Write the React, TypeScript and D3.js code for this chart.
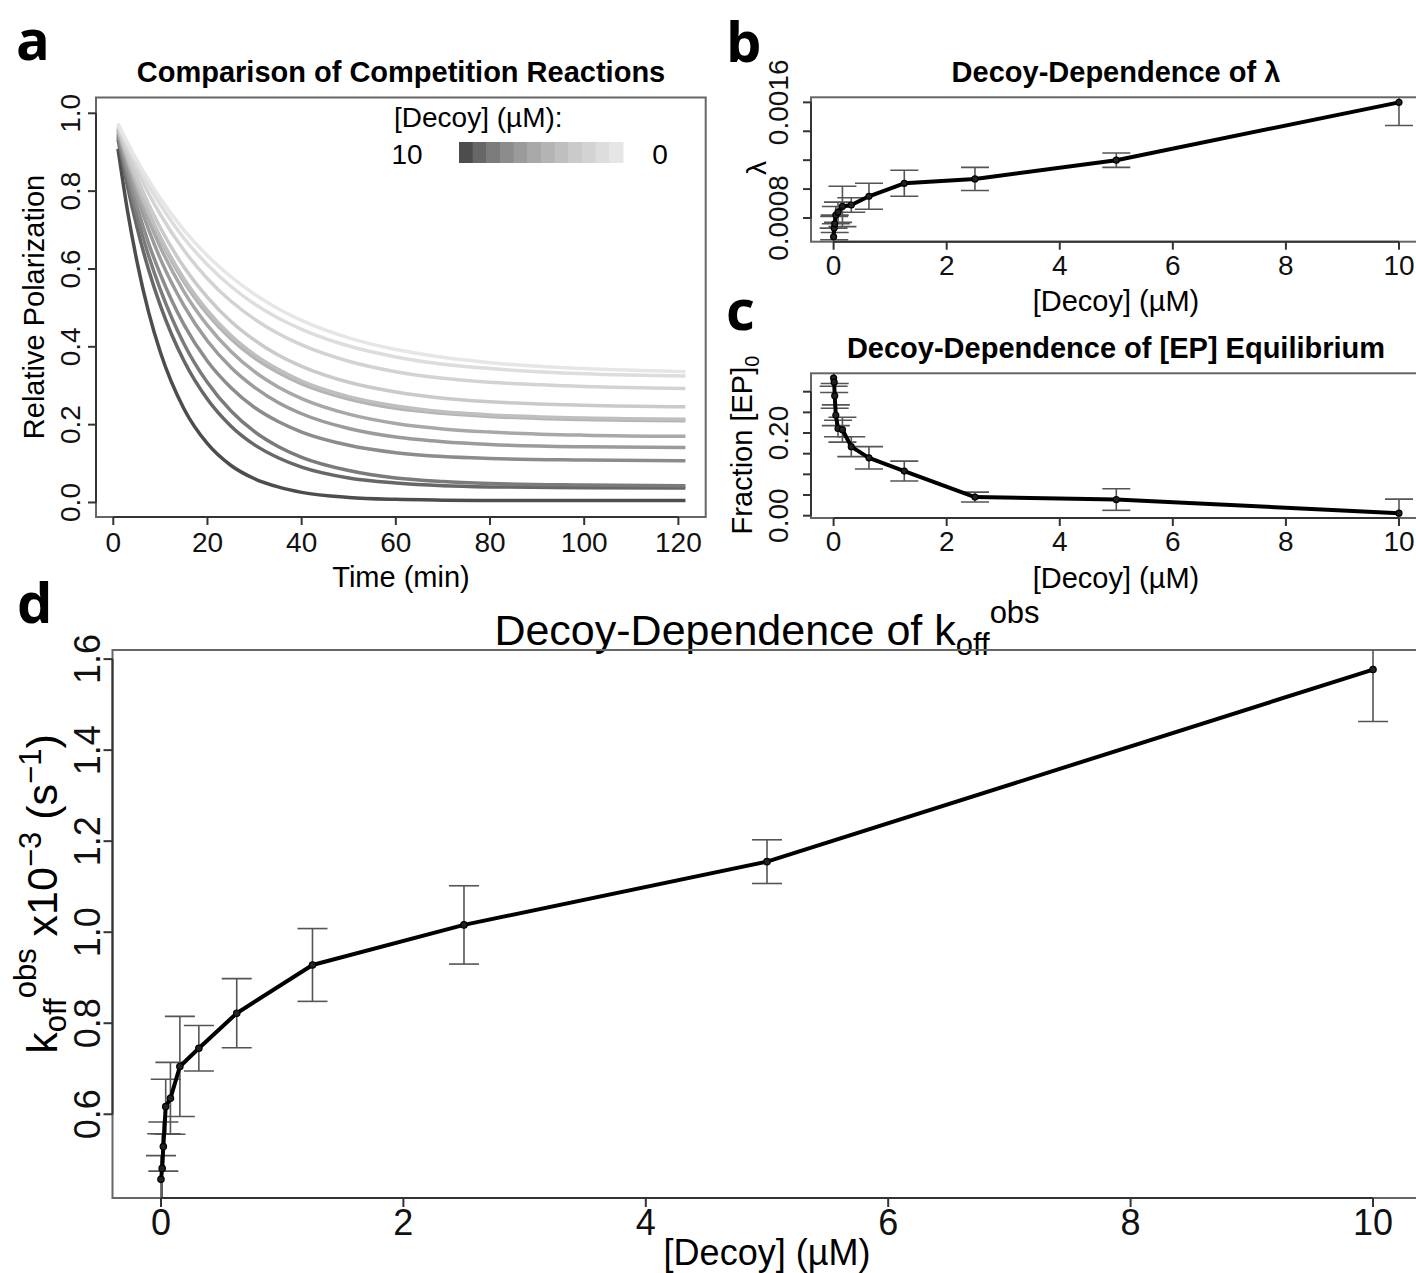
import React from "react";
import * as d3 from "d3";

const FONT = "'Liberation Sans', Arial, Helvetica, sans-serif";
const LABEL_FONT = "'Open Sans', 'DejaVu Sans', sans-serif";

// ---------- data ----------
// decoy concentrations (µM), ascending
const CONC = [0, 0.0098, 0.0195, 0.039, 0.078, 0.156, 0.3125, 0.625, 1.25, 2.5, 5, 10];
// panel b: lambda
const LAMBDA = [0.00067, 0.00073, 0.00076, 0.00082, 0.00084, 0.00088, 0.00089, 0.00095, 0.00104, 0.00107, 0.0012, 0.0016];
const LAMBDA_ERR = [0.00006, 0.00008, 0.00006, 0.00006, 0.00007, 0.00014, 0.00005, 0.00009, 0.00009, 0.00008, 0.00005, 0.00016];
// panel c: fraction [EP]0 at equilibrium
const EP_FRACTION = [0.333, 0.323, 0.29, 0.243, 0.211, 0.208, 0.167, 0.14, 0.108, 0.045, 0.039, 0.006];
const EP_ERR = [0.02, 0.025, 0.03, 0.025, 0.02, 0.03, 0.024, 0.027, 0.024, 0.012, 0.026, 0.034];
// panel d: koff obs (x10^-3 s^-1)
const KOFF = [0.457, 0.481, 0.529, 0.617, 0.635, 0.705, 0.745, 0.822, 0.928, 1.016, 1.155, 1.577];
const KOFF_ERR = [0.052, 0.076, 0.054, 0.06, 0.079, 0.11, 0.05, 0.076, 0.08, 0.086, 0.048, 0.114];

// panel a: relative polarization curves, sampled at these times (min)
const TIME_MIN = [1, 3, 5, 7.5, 10, 15, 20, 25, 30, 35, 40, 50, 60, 70, 80, 100, 121.5];
const CURVE_10 = [0.909, 0.751, 0.621, 0.489, 0.386, 0.241, 0.151, 0.095, 0.061, 0.04, 0.026, 0.013, 0.008, 0.006, 0.005, 0.005, 0.005];
const CURVE_5 = [0.933, 0.813, 0.709, 0.598, 0.506, 0.364, 0.265, 0.196, 0.148, 0.115, 0.091, 0.063, 0.05, 0.043, 0.04, 0.038, 0.037];
const CURVE_2_5 = [0.94, 0.832, 0.737, 0.634, 0.547, 0.408, 0.308, 0.235, 0.182, 0.144, 0.116, 0.082, 0.063, 0.054, 0.049, 0.045, 0.043];
const CURVE_1_25 = [0.946, 0.848, 0.761, 0.666, 0.586, 0.457, 0.363, 0.295, 0.244, 0.208, 0.181, 0.147, 0.128, 0.118, 0.113, 0.109, 0.107];
const CURVE_0_625 = [0.952, 0.865, 0.787, 0.701, 0.626, 0.506, 0.415, 0.347, 0.296, 0.257, 0.228, 0.19, 0.168, 0.156, 0.149, 0.143, 0.141];
const CURVE_0_3125 = [0.957, 0.877, 0.805, 0.726, 0.656, 0.542, 0.455, 0.388, 0.336, 0.297, 0.267, 0.227, 0.203, 0.189, 0.181, 0.173, 0.17];
const CURVE_0_156 = [0.959, 0.884, 0.817, 0.741, 0.676, 0.567, 0.484, 0.42, 0.371, 0.334, 0.305, 0.266, 0.242, 0.229, 0.221, 0.213, 0.21];
const CURVE_0_078 = [0.96, 0.887, 0.821, 0.747, 0.682, 0.575, 0.493, 0.429, 0.38, 0.342, 0.312, 0.272, 0.248, 0.233, 0.225, 0.217, 0.214];
const CURVE_0_039 = [0.964, 0.896, 0.835, 0.767, 0.706, 0.605, 0.527, 0.465, 0.417, 0.379, 0.35, 0.309, 0.284, 0.268, 0.259, 0.25, 0.246];
const CURVE_0_0195 = [0.968, 0.909, 0.855, 0.794, 0.74, 0.648, 0.575, 0.517, 0.471, 0.434, 0.405, 0.363, 0.336, 0.319, 0.309, 0.298, 0.293];
const CURVE_0_0098 = [0.972, 0.918, 0.87, 0.814, 0.765, 0.679, 0.611, 0.555, 0.51, 0.474, 0.445, 0.402, 0.374, 0.355, 0.344, 0.331, 0.325];
const CURVE_0 = [0.974, 0.925, 0.88, 0.828, 0.781, 0.7, 0.634, 0.58, 0.535, 0.498, 0.468, 0.423, 0.393, 0.373, 0.359, 0.344, 0.336];
const CURVES = [CURVE_10, CURVE_5, CURVE_2_5, CURVE_1_25, CURVE_0_625, CURVE_0_3125, CURVE_0_156, CURVE_0_078, CURVE_0_039, CURVE_0_0195, CURVE_0_0098, CURVE_0];
const CURVE_GRAYS = ["#4d4d4d", "#676767", "#7b7b7b", "#8c8c8c", "#9b9b9b", "#a8a8a8", "#b4b4b4", "#bfbfbf", "#cacaca", "#d3d3d3", "#dddddd", "#e6e6e6"];

// ticks
const A_XTICKS = [0, 20, 40, 60, 80, 100, 120];
const A_YTICKS = [0, 0.2, 0.4, 0.6, 0.8, 1.0];
const DECOY_XTICKS = [0, 2, 4, 6, 8, 10];
const B_YTICKS = [0.0008, 0.001, 0.0012, 0.0014, 0.0016];
const B_YLABELS = ["0.0008", "", "", "", "0.0016"];
const C_YTICKS = [0, 0.05, 0.1, 0.15, 0.2, 0.25, 0.3];
const C_YLABELS = ["0.00", "", "", "", "0.20", "", ""];
const D_YTICKS = [0.6, 0.8, 1.0, 1.2, 1.4, 1.6];

const AXIS_COL = "#333";
const BOX_COL = "#666";
const ERR_COL = "#555";

type Lin = d3.ScaleLinear<number, number>;

function Frame({ x, y, id }: { x: Lin; y: Lin; id: string }) {
  const [x0, x1] = x.range();
  const [y1, y0] = y.range();
  return (
    <g>
      <defs>
        <clipPath id={id}>
          <rect x={x0} y={y0} width={x1 - x0} height={y1 - y0} />
        </clipPath>
      </defs>
      <rect x={x0} y={y0} width={x1 - x0} height={y1 - y0} fill="none" stroke={BOX_COL} strokeWidth={2} />
    </g>
  );
}

function BottomAxis({ x, y, ticks, fs, lab, tl = 8, labY }: { x: Lin; y: Lin; ticks: number[]; fs: number; lab: (v: number) => string; tl?: number; labY: number }) {
  const yb = y.range()[0];
  return (
    <g>
      <line x1={x(ticks[0])} x2={x(ticks[ticks.length - 1])} y1={yb} y2={yb} stroke={AXIS_COL} strokeWidth={2} />
      {ticks.map((t, i) => (
        <g key={i}>
          <line x1={x(t)} x2={x(t)} y1={yb} y2={yb + tl} stroke={AXIS_COL} strokeWidth={2} />
          <text x={x(t)} y={labY} fontSize={fs} textAnchor="middle" fontFamily={FONT} fill="#111">{lab(t)}</text>
        </g>
      ))}
    </g>
  );
}

function LeftAxis({ x, y, ticks, fs, labels, tl = 8, labX }: { x: Lin; y: Lin; ticks: number[]; fs: number; labels: string[]; tl?: number; labX: number }) {
  const xl = x.range()[0];
  return (
    <g>
      <line x1={xl} x2={xl} y1={y(ticks[0])} y2={y(ticks[ticks.length - 1])} stroke={AXIS_COL} strokeWidth={2} />
      {ticks.map((t, i) => (
        <g key={i}>
          <line x1={xl - tl} x2={xl} y1={y(t)} y2={y(t)} stroke={AXIS_COL} strokeWidth={2} />
          {labels[i] ? (
            <text transform={`translate(${labX},${y(t)}) rotate(-90)`} fontSize={fs} textAnchor="middle" fontFamily={FONT} fill="#111">{labels[i]}</text>
          ) : null}
        </g>
      ))}
    </g>
  );
}

function ErrorBars({ x, y, xs, vs, es, hw, clip, sw = 1.6 }: { x: Lin; y: Lin; xs: number[]; vs: number[]; es: number[]; hw: number; clip: string; sw?: number }) {
  return (
    <g clipPath={`url(#${clip})`} stroke={ERR_COL} strokeWidth={sw} fill="none">
      {xs.map((xv, i) => {
        const px = x(xv);
        const lo = y(vs[i] - es[i]);
        const hi = y(vs[i] + es[i]);
        return (
          <g key={i}>
            <line x1={px} x2={px} y1={lo} y2={hi} />
            <line x1={px - hw} x2={px + hw} y1={lo} y2={lo} />
            <line x1={px - hw} x2={px + hw} y1={hi} y2={hi} />
          </g>
        );
      })}
    </g>
  );
}

function Series({ x, y, xs, vs, clip, lw, r }: { x: Lin; y: Lin; xs: number[]; vs: number[]; clip: string; lw: number; r: number }) {
  const line = d3.line<number>().x((_, i) => x(xs[i])).y((v) => y(v));
  return (
    <g clipPath={`url(#${clip})`}>
      <path d={line(vs) || ""} fill="none" stroke="#000" strokeWidth={lw} strokeLinejoin="round" />
      {xs.map((xv, i) => (
        <circle key={i} cx={x(xv)} cy={y(vs[i])} r={r} fill="#222" stroke="#000" strokeWidth={1.2} />
      ))}
    </g>
  );
}

export default function App() {
  // panel a
  const ax = d3.scaleLinear().domain([-3.67, 125.8]).range([96, 705.7]);
  const ay = d3.scaleLinear().domain([-0.0373, 1.0406]).range([517, 97.5]);
  // panel b
  const bx = d3.scaleLinear().domain([-0.4, 10.4]).range([811, 1421.6]);
  const by = d3.scaleLinear().domain([0.000636, 0.001635]).range([241.7, 97.3]);
  // panel c
  const cx = d3.scaleLinear().domain([-0.4, 10.4]).range([811, 1421.6]);
  const cy = d3.scaleLinear().domain([-0.0056, 0.3445]).range([518, 373.3]);
  // panel d
  const dx = d3.scaleLinear().domain([-0.4, 10.4]).range([112.5, 1421.5]);
  const dy = d3.scaleLinear().domain([0.416, 1.62]).range([1198, 650]);

  const curveLine = d3
    .line<number>()
    .x((_, i) => ax(TIME_MIN[i]))
    .y((v) => ay(v))
    .curve(d3.curveMonotoneX);

  const legendScale = d3.scaleBand<number>().domain(d3.range(CURVE_GRAYS.length)).range([459, 623]);

  const fmt1 = (v: number) => d3.format(".1f")(v);
  const fmt0 = (v: number) => String(v);

  return (
    <svg width={1416} height={1273} style={{ position: "absolute", left: 0, top: 0, background: "#fff" }} fontFamily={FONT}>
      <rect x={0} y={0} width={1416} height={1273} fill="#fff" />

      {/* ---------- panel a ---------- */}
      <text x={16} y={60} fontSize={56} fontWeight={700} fontFamily={LABEL_FONT}>a</text>
      <text x={401} y={82} fontSize={29} fontWeight={700} textAnchor="middle">Comparison of Competition Reactions</text>
      <Frame x={ax} y={ay} id="clipA" />
      <g clipPath="url(#clipA)">
        {CURVES.map((c, i) => (
          <path key={i} d={curveLine(c) || ""} fill="none" stroke={CURVE_GRAYS[i]} strokeWidth={3.5} />
        ))}
      </g>
      <BottomAxis x={ax} y={ay} ticks={A_XTICKS} fs={28} lab={fmt0} labY={552} />
      <LeftAxis x={ax} y={ay} ticks={A_YTICKS} fs={28} labels={A_YTICKS.map(fmt1)} labX={80} />
      <text x={401} y={587} fontSize={29} textAnchor="middle">Time (min)</text>
      <text transform={`translate(44,307) rotate(-90)`} fontSize={29} textAnchor="middle">Relative Polarization</text>
      {/* legend */}
      <text x={394} y={127} fontSize={28}>[Decoy] (µM):</text>
      <text x={407} y={164} fontSize={28} textAnchor="middle">10</text>
      <text x={660} y={164} fontSize={28} textAnchor="middle">0</text>
      {CURVE_GRAYS.map((g, i) => (
        <rect key={i} x={legendScale(i)} y={142} width={legendScale.bandwidth() + 0.5} height={21} fill={g} />
      ))}

      {/* ---------- panel b ---------- */}
      <text x={726} y={62} fontSize={56} fontWeight={700} fontFamily={LABEL_FONT}>b</text>
      <text x={1116} y={82} fontSize={29} fontWeight={700} textAnchor="middle">Decoy-Dependence of λ</text>
      <Frame x={bx} y={by} id="clipB" />
      <ErrorBars x={bx} y={by} xs={CONC} vs={LAMBDA} es={LAMBDA_ERR} hw={14} clip="clipB" />
      <Series x={bx} y={by} xs={CONC} vs={LAMBDA} clip="clipB" lw={4} r={3} />
      <BottomAxis x={bx} y={by} ticks={DECOY_XTICKS} fs={28} lab={fmt0} labY={275} />
      <LeftAxis x={bx} y={by} ticks={B_YTICKS} fs={28} labels={B_YLABELS} labX={788} />
      <text x={1116} y={311} fontSize={29} textAnchor="middle">[Decoy] (µM)</text>
      <text transform={`translate(766,168) rotate(-90)`} fontSize={28} textAnchor="middle">λ</text>

      {/* ---------- panel c ---------- */}
      <text x={726} y={330} fontSize={56} fontWeight={700} fontFamily={LABEL_FONT}>c</text>
      <text x={1116} y={358} fontSize={29} fontWeight={700} textAnchor="middle">Decoy-Dependence of [EP] Equilibrium</text>
      <Frame x={cx} y={cy} id="clipC" />
      <ErrorBars x={cx} y={cy} xs={CONC} vs={EP_FRACTION} es={EP_ERR} hw={14} clip="clipC" />
      <Series x={cx} y={cy} xs={CONC} vs={EP_FRACTION} clip="clipC" lw={4} r={3} />
      <BottomAxis x={cx} y={cy} ticks={DECOY_XTICKS} fs={28} lab={fmt0} labY={551} />
      <LeftAxis x={cx} y={cy} ticks={C_YTICKS} fs={28} labels={C_YLABELS} labX={788} />
      <text x={1116} y={588} fontSize={29} textAnchor="middle">[Decoy] (µM)</text>
      <text transform={`translate(752,445) rotate(-90)`} fontSize={29} textAnchor="middle">
        Fraction [EP]<tspan fontSize={20} dy={7}>0</tspan>
      </text>

      {/* ---------- panel d ---------- */}
      <text x={17} y={623} fontSize={56} fontWeight={700} fontFamily={LABEL_FONT}>d</text>
      <text x={767} y={645} fontSize={43} textAnchor="middle">
        Decoy-Dependence of k<tspan fontSize={31} dy={10}>off</tspan>
        <tspan fontSize={31} dy={-32}>obs</tspan>
      </text>
      <Frame x={dx} y={dy} id="clipD" />
      <ErrorBars x={dx} y={dy} xs={CONC} vs={KOFF} es={KOFF_ERR} hw={15} clip="clipD" />
      <Series x={dx} y={dy} xs={CONC} vs={KOFF} clip="clipD" lw={4} r={3.2} />
      <BottomAxis x={dx} y={dy} ticks={DECOY_XTICKS} fs={36} lab={fmt0} labY={1235} tl={9} />
      <LeftAxis x={dx} y={dy} ticks={D_YTICKS} fs={36} labels={D_YTICKS.map(fmt1)} labX={100} tl={9} />
      <text x={767} y={1265} fontSize={36} textAnchor="middle">[Decoy] (µM)</text>
      <text transform={`translate(57,894) rotate(-90)`} fontSize={43} textAnchor="middle">
        k<tspan fontSize={31} dy={9}>off</tspan>
        <tspan fontSize={31} dy={-30}>obs</tspan>
        <tspan dy={21}> x10</tspan>
        <tspan fontSize={31} dy={-16}>−3</tspan>
        <tspan dy={16}> (s</tspan>
        <tspan fontSize={31} dy={-16}>−1</tspan>
        <tspan dy={16}>)</tspan>
      </text>
    </svg>
  );
}
